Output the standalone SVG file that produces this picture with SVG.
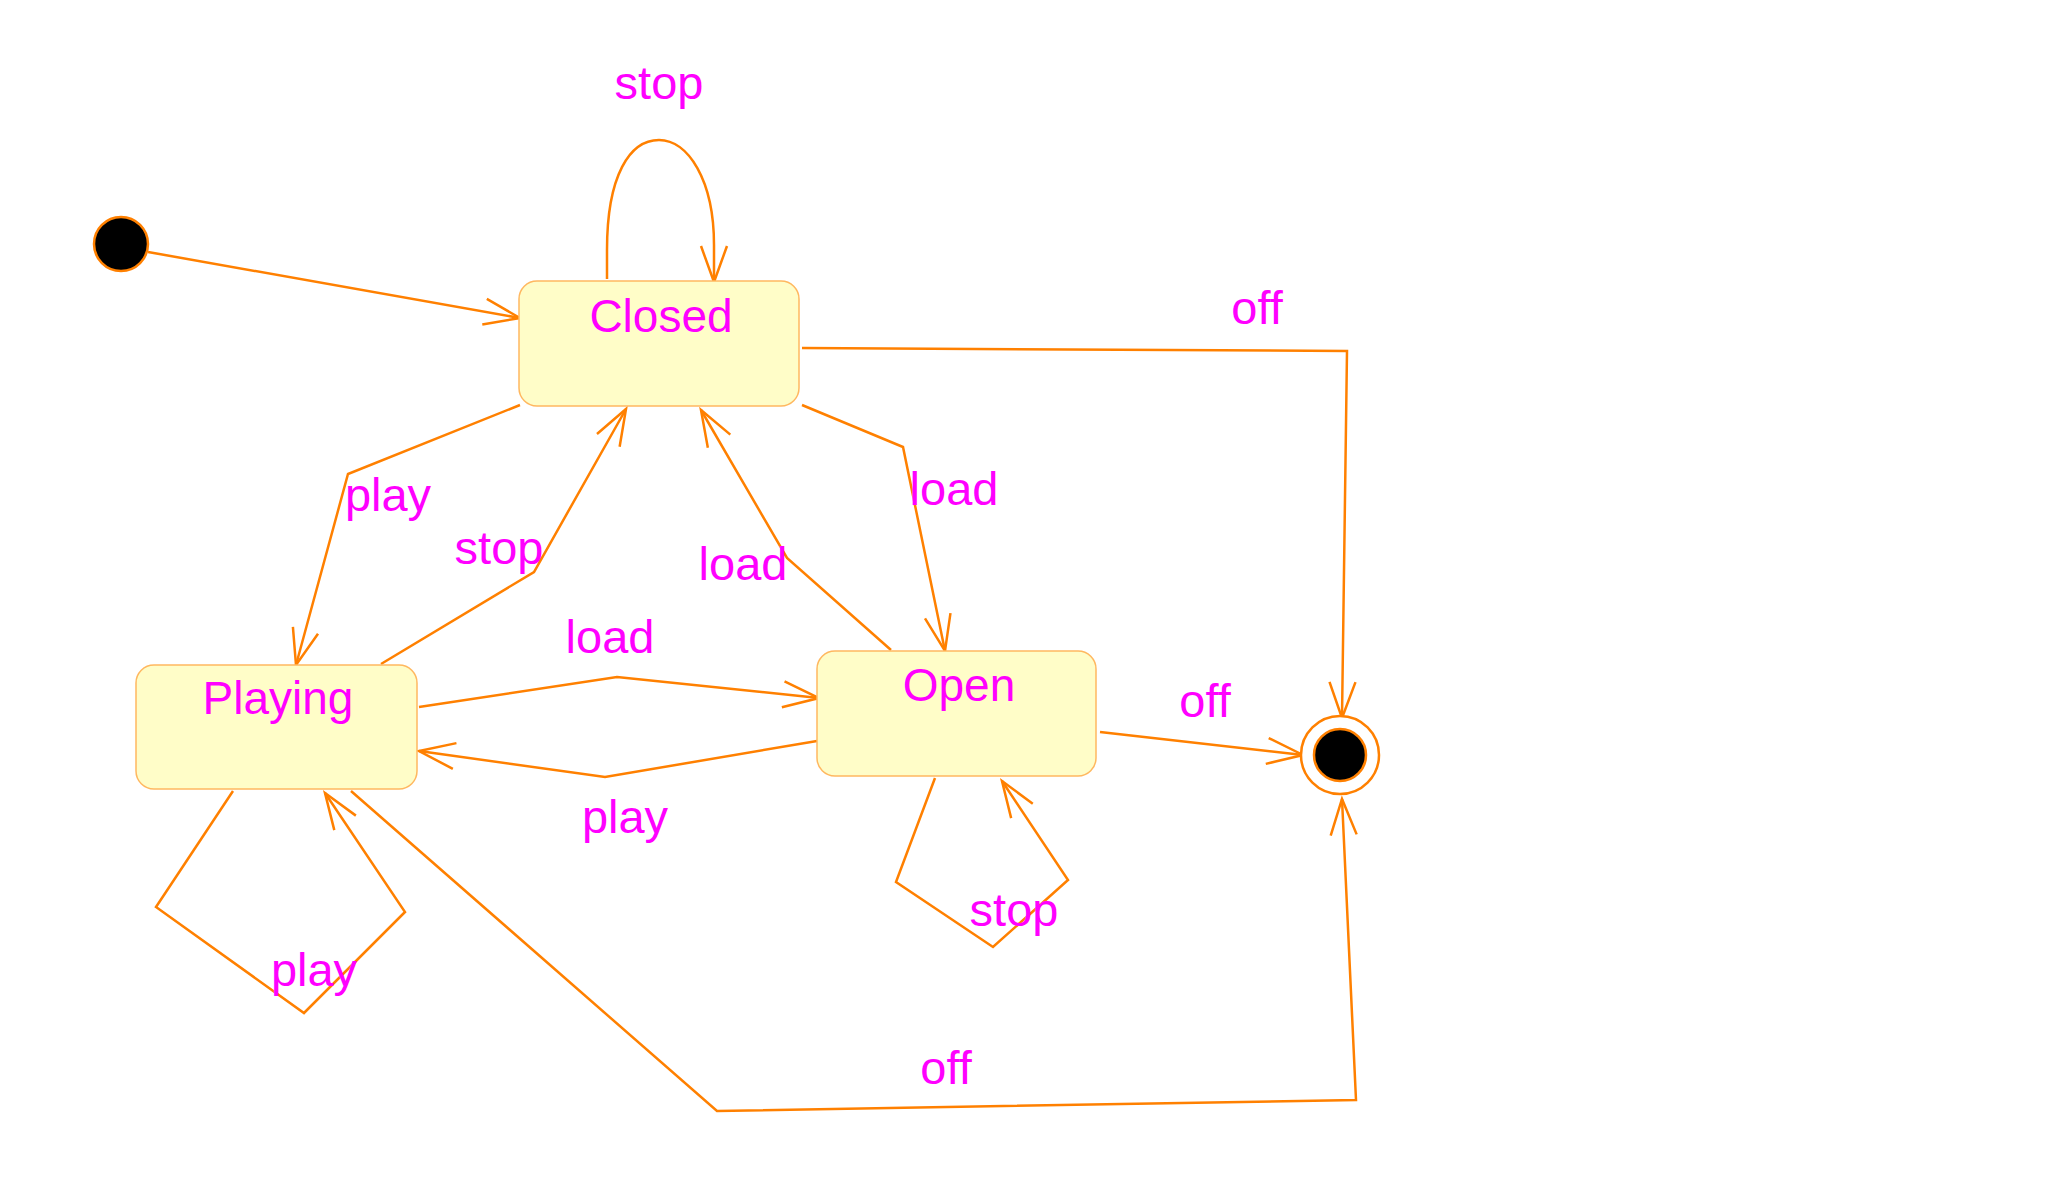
<svg xmlns="http://www.w3.org/2000/svg" width="2054" height="1189" viewBox="0 0 2054 1189">
<style>
.edge{fill:none;stroke:#FF8000;stroke-width:2.5;stroke-linejoin:miter}
.state{fill:#FFFDC8;stroke:#FFB860;stroke-width:1.5}
.name{font-family:"Liberation Sans",Arial,sans-serif;font-size:46px;fill:#FF00FF;text-anchor:middle}
.lbl{font-family:"Liberation Sans",Arial,sans-serif;font-size:47px;fill:#FF00FF;text-anchor:middle}
</style>
<defs>
<marker id="arr" markerUnits="userSpaceOnUse" markerWidth="50" markerHeight="40" refX="40" refY="20" orient="auto" overflow="visible">
<path d="M4,7 L40,20 L4,33" fill="none" stroke="#FF8000" stroke-width="2.5"/>
</marker>
</defs>
<rect width="2054" height="1189" fill="#FFFFFF"/>
<g id="connectors">
<path class="edge" marker-end="url(#arr)" d="M148,252 L520,318"/>
<path class="edge" marker-end="url(#arr)" d="M607,279 L607,250 C607,175 630,140 659,140 C688,140 714,180 714,245 L714,282"/>
<path class="edge" marker-end="url(#arr)" d="M802,348 L1347,351 L1342,718"/>
<path class="edge" marker-end="url(#arr)" d="M520,405 L348,474 L296,665"/>
<path class="edge" marker-end="url(#arr)" d="M381,664 L534,572 L626,409"/>
<path class="edge" marker-end="url(#arr)" d="M891,650 L787,558 L701,410"/>
<path class="edge" marker-end="url(#arr)" d="M802,405 L903,447 L945,651"/>
<path class="edge" marker-end="url(#arr)" d="M419,707 L617,677 L819,698"/>
<path class="edge" marker-end="url(#arr)" d="M817,741 L605,777 L419,751"/>
<path class="edge" marker-end="url(#arr)" d="M1100,732 L1303,755"/>
<path class="edge" marker-end="url(#arr)" d="M935,778 L896,882 L993,947 L1068,880 L1002,781"/>
<path class="edge" marker-end="url(#arr)" d="M233,791 L156,907 L304,1013 L405,912 L325,793"/>
<path class="edge" marker-end="url(#arr)" d="M351,791 L717,1111 L1356,1100 L1342,799"/>
</g>
<g id="labels">
<text class="lbl" x="659" y="99">stop</text>
<text class="lbl" x="1257" y="324">off</text>
<text class="lbl" x="388" y="511">play</text>
<text class="lbl" x="499" y="564">stop</text>
<text class="lbl" x="743" y="580">load</text>
<text class="lbl" x="954" y="505">load</text>
<text class="lbl" x="610" y="653">load</text>
<text class="lbl" x="1205" y="717">off</text>
<text class="lbl" x="625" y="833">play</text>
<text class="lbl" x="1014" y="926">stop</text>
<text class="lbl" x="314" y="986">play</text>
<text class="lbl" x="946" y="1084">off</text>
</g>
<g id="initial">
<circle cx="121" cy="244" r="27" fill="#000000" stroke="#FF8000" stroke-width="2.5"/>
</g>
<g id="closed">
<rect class="state" x="519" y="281" width="280" height="125" rx="18" ry="18"/>
<text class="name" x="661" y="332">Closed</text>
</g>
<g id="playing">
<rect class="state" x="136" y="665" width="281" height="124" rx="18" ry="18"/>
<text class="name" x="278" y="714">Playing</text>
</g>
<g id="open">
<rect class="state" x="817" y="651" width="279" height="125" rx="18" ry="18"/>
<text class="name" x="959" y="701">Open</text>
</g>
<g id="final">
<circle cx="1340" cy="755" r="39" fill="#FFFFFF" stroke="#FF8000" stroke-width="2.5"/>
<circle cx="1340" cy="755" r="26" fill="#000000" stroke="#FF8000" stroke-width="2.5"/>
</g>
</svg>
